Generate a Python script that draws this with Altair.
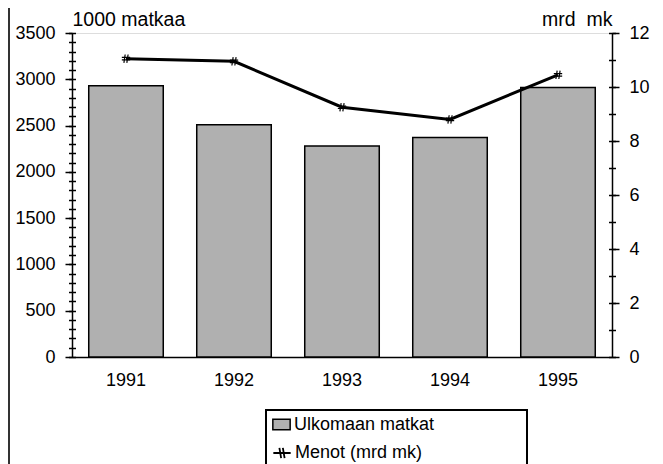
import altair as alt
import pandas as pd

# ---- data ----
years = ["1991", "1992", "1993", "1994", "1995"]
matkat = [2930, 2510, 2280, 2370, 2910]          # 1000 trips (left axis)
menot = [11.05, 10.95, 9.25, 8.8, 10.45]          # bn FIM (right axis)
bar_label = "Ulkomaan matkat"
line_label = "Menot (mrd mk)"

left_major = [0, 500, 1000, 1500, 2000, 2500, 3000, 3500]
left_minor = list(range(0, 3501, 100))
right_major = [0, 2, 4, 6, 8, 10, 12]
right_minor = [i / 2 for i in range(0, 25)]

FONT = "Liberation Sans"
FS = 18
TFS = 19.5

df = pd.DataFrame({
    "year": years,
    "matkat": matkat,
    "menot": menot,
    "s1": [bar_label] * len(years),
    "s2": [line_label] * len(years),
})

x_enc = alt.X(
    "year:N",
    sort=years,
    scale=alt.Scale(paddingInner=0.31, paddingOuter=0.155),
    axis=alt.Axis(title=None, labelAngle=0, ticks=False, labelPadding=14,
                  labelFontSize=FS, labelFont=FONT, labelColor="black",
                  domainColor="black", domainWidth=1.5),
)

left_scale = alt.Scale(domain=[0, 3500], nice=False)
right_scale = alt.Scale(domain=[0, 12], nice=False)

common_axis = dict(grid=False, tickColor="black", tickWidth=1.5,
                   labelFont=FONT, labelFontSize=FS, labelColor="black",
                   titleFont=FONT, titleFontSize=TFS, titleColor="black",
                   titleFontWeight="normal", format="d", titleLimit=300)

bars = alt.Chart(df).mark_bar(stroke="black", strokeWidth=1.5).encode(
    x=x_enc,
    y=alt.Y("matkat:Q", scale=left_scale,
            axis=alt.Axis(orient="left", values=left_major, tickSize=7,
                          domainColor="black", domainWidth=1.5, labelPadding=10,
                          title="1000 matkaa", titleAngle=0, titleX=0, titleY=-8,
                          titleAlign="left", titleBaseline="alphabetic",
                          **common_axis)),
    fill=alt.Fill("s1:N", scale=alt.Scale(domain=[bar_label], range=["#b0b0b0"]),
                  legend=alt.Legend(orient="none", legendX=200, legendY=382,
                                    title=None, padding=0, labelOffset=3,
                                    symbolType="M-1,-0.62H1V0.62H-1Z",
                                    symbolSize=300, symbolStrokeColor="black",
                                    symbolStrokeWidth=1.5,
                                    labelFont=FONT, labelFontSize=FS,
                                    labelColor="black")),
)

left_minor_layer = alt.Chart(df).mark_point(opacity=0).encode(
    x=x_enc,
    y=alt.Y("matkat:Q", scale=left_scale,
            axis=alt.Axis(orient="left", values=left_minor, tickSize=7, offset=-3.5,
                          domain=False, labels=False, title=None, **common_axis)),
)

line = alt.Chart(df).mark_line(strokeWidth=3).encode(
    x=x_enc,
    y=alt.Y("menot:Q", scale=right_scale,
            axis=alt.Axis(orient="right", values=right_major, tickSize=7,
                          domainColor="black", domainWidth=1.5, labelPadding=10,
                          title="mrd\u00a0\u00a0mk", titleAngle=0, titleX=0, titleY=-8,
                          titleAlign="right", titleBaseline="alphabetic",
                          **common_axis)),
    stroke=alt.Stroke("s2:N", scale=alt.Scale(domain=[line_label], range=["black"]),
                      legend=alt.Legend(orient="none", legendX=200, legendY=410,
                                        title=None, padding=0, labelOffset=3,
                                        symbolType="M-1,0H1M-0.3,-0.6L-0.1,0.6M0.1,-0.6L0.3,0.6",
                                        symbolSize=300, symbolStrokeWidth=1.8,
                                        labelFont=FONT, labelFontSize=FS,
                                        labelColor="black")),
)

hash_marks = alt.Chart(df).mark_point(
    shape="M-1,-0.3H1M-1,0.3H1M-0.2,-1L-0.5,1M0.5,-1L0.2,1",
    size=70, filled=False, stroke="black", strokeWidth=1.2, opacity=1,
).encode(
    x=x_enc,
    y=alt.Y("menot:Q", scale=right_scale,
            axis=alt.Axis(orient="right", values=right_minor, tickSize=7, offset=-3.5,
                          domain=False, labels=False, title=None, **common_axis)),
)

legend_box = alt.Chart(df).mark_rect(fill=None, stroke="black", strokeWidth=1.5).encode(
    x=alt.value(194), x2=alt.value(455), y=alt.value(377), y2=alt.value(520),
)

scan_edge = alt.Chart(df).mark_rule(color="#333333", strokeWidth=1.5).encode(
    x=alt.value(-63), y=alt.value(-40), y2=alt.value(520),
)

chart = alt.layer(
    bars, left_minor_layer, line, hash_marks, legend_box, scan_edge
).resolve_scale(
    y="independent"
).properties(
    width=540, height=324,
    autosize=alt.AutoSizeParams(type="none"),
    padding={"left": 64, "top": 25, "right": 43, "bottom": 107},
).configure_view(
    stroke="black", strokeWidth=1.5
).configure_axis(
    labelFontSize=FS, titleFont=FONT, labelFont=FONT
).configure(background="white")

chart.save("out.html", embed_options={"renderer": "svg", "actions": False})
